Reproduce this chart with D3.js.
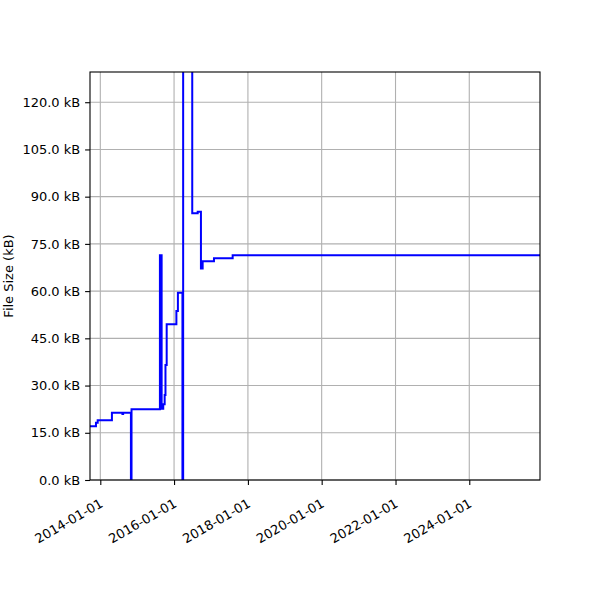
<!DOCTYPE html>
<html><head><meta charset="utf-8">
<script src="https://cdn.jsdelivr.net/npm/d3@7"></script>
<style>body{margin:0;background:#fff}svg{display:block}text{font-family:"DejaVu Sans",sans-serif;}</style>
</head><body><svg id="c" width="600" height="600"></svg>
<script>
const dates = ["2013-09-25","2013-11-19","2013-12-06","2014-04-26","2014-08-08","2014-08-15","2014-10-31","2014-11-06","2015-08-14","2015-08-31","2015-09-16","2015-09-30","2015-10-08","2015-10-20","2016-01-24","2016-02-08","2016-03-24","2016-03-31","2016-06-29","2016-08-22","2016-09-23","2016-10-10","2017-01-30","2017-08-03","2025-12-01"];
const sizes = [17.1,18.2,19.0,21.4,21.0,21.4,0,22.5,71.4,22.6,24.1,27.0,36.5,49.5,53.7,59.5,0,250,84.7,85.2,67.2,69.5,70.4,71.4,71.4];
const xTickDates = ["2014-01-01","2016-01-01","2018-01-01","2020-01-01","2022-01-01","2024-01-01"];
const yTicks = [0,15,30,45,60,75,90,105,120];
const xDomain = ["2013-09-21","2025-12-01"];
const yDomain = [0,129.6];

const parse = d3.utcParse("%Y-%m-%d");
const data = dates.map((d,i)=>({t:parse(d), v:sizes[i]}));
const L=90,R=540,T=72,B=480;
const svg = d3.select("#c");
const x = d3.scaleUtc().domain(xDomain.map(parse)).range([L,R]);
const y = d3.scaleLinear().domain(yDomain).range([B,T]);

// grid
const g = svg.append("g");
g.selectAll(".gx").data(xTickDates.map(parse)).join("line")
 .attr("x1",d=>x(d)).attr("x2",d=>x(d)).attr("y1",T).attr("y2",B)
 .attr("stroke","#b0b0b0").attr("stroke-width",1.1);
g.selectAll(".gy").data(yTicks).join("line")
 .attr("x1",L).attr("x2",R).attr("y1",d=>y(d)).attr("y2",d=>y(d))
 .attr("stroke","#b0b0b0").attr("stroke-width",1.1);

svg.append("clipPath").attr("id","clip").append("rect")
 .attr("x",L).attr("y",T).attr("width",R-L).attr("height",B-T);

svg.append("path").datum(data)
 .attr("clip-path","url(#clip)")
 .attr("fill","none").attr("stroke","#0000ff").attr("stroke-width",2)
 .attr("stroke-linejoin","miter").attr("stroke-linecap","square")
 .attr("d", d3.line().x(d=>x(d.t)).y(d=>y(d.v)).curve(d3.curveStepAfter));

// axes
const fmt = d3.utcFormat("%Y-%m-%d");
const xa = svg.append("g").attr("transform",`translate(0,${B})`)
 .call(d3.axisBottom(x).tickValues(xTickDates.map(parse)).tickFormat(fmt).tickSize(4.9).tickPadding(4));
xa.select(".domain").remove();
xa.selectAll(".tick line").attr("stroke","#000").attr("stroke-width",1.1);
xa.selectAll(".tick text").attr("font-size",13).attr("fill","#000")
 .attr("font-family","DejaVu Sans")
 .attr("text-anchor","end").attr("dy",null).attr("x",0).attr("y",0)
 .attr("transform","translate(3,26) rotate(-30)");

const ya = svg.append("g").attr("transform",`translate(${L},0)`)
 .call(d3.axisLeft(y).tickValues(yTicks).tickFormat(d=>d3.format(".1f")(d)+" kB").tickSize(4.9).tickPadding(4.9));
ya.select(".domain").remove();
ya.selectAll(".tick line").attr("stroke","#000").attr("stroke-width",1.1);
ya.selectAll(".tick text").attr("font-size",13).attr("fill","#000").attr("font-family","DejaVu Sans");

svg.append("rect").attr("x",L).attr("y",T).attr("width",R-L).attr("height",B-T)
 .attr("fill","none").attr("stroke","#000").attr("stroke-width",1.1);

svg.append("text").attr("transform",`translate(12.5,${(T+B)/2}) rotate(-90)`)
 .attr("text-anchor","middle").attr("font-size",13).attr("fill","#000").text("File Size (kB)");
</script></body></html>
